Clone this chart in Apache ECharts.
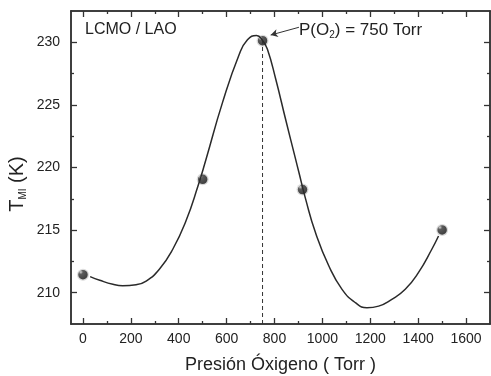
<!DOCTYPE html>
<html>
<head>
<meta charset="utf-8">
<script src="https://cdn.jsdelivr.net/npm/echarts@6/dist/echarts.min.js"></script>
<style>html,body{margin:0;padding:0;background:#fff;}#c{width:491px;height:376px;}</style>
</head>
<body>
<div id="c"></div>
<script>
// ---- data ----
const xTicks = [0, 200, 400, 600, 800, 1000, 1200, 1400, 1600];
const xMinorTicks = [100, 300, 500, 700, 900, 1100, 1300, 1500];
const yTicks = [210, 215, 220, 225, 230];
const yMinorTicks = [212.5, 217.5, 222.5, 227.5];

const pressure = [0, 500, 750, 917, 1500];
const tmi = [211.44, 219.06, 230.13, 218.24, 215.01];

const fitX = [30, 70, 125, 166, 222, 264, 319, 375, 430, 480, 514, 583, 652, 687, 725, 750, 770, 805, 846, 888, 902, 930, 971, 1027, 1082, 1138, 1186, 1235, 1290, 1346, 1401, 1457, 1485];
const fitY = [211.28, 210.99, 210.67, 210.56, 210.64, 210.93, 211.87, 213.47, 215.73, 218.5, 220.66, 225.2, 229.0, 230.2, 230.55, 230.15, 229.46, 227.07, 223.87, 220.67, 219.6, 217.47, 214.8, 212.13, 210.27, 209.2, 208.8, 208.93, 209.47, 210.27, 211.6, 213.47, 214.53];

const peakX = 750, peakY = 230.13;
const arrowFrom = [902, 231.2];
const arrowTo = [784, 230.58];

const xMin = -50, xMax = 1700, yMin = 207.5, yMax = 232.5;

// ---- chart ----
const FONT = 'Liberation Sans, Arial, sans-serif';
const INK = '#222';
const AX = '#333';

function xAx(pos, ticks, len, labels, extra) {
  return Object.assign({
    type: 'value', position: pos, min: xMin, max: xMax,
    axisLine: { show: true, onZero: false, lineStyle: { color: AX, width: 1.5 } },
    axisTick: { show: true, inside: true, length: len, customValues: ticks, lineStyle: { color: AX, width: 1.3 } },
    axisLabel: labels ? { show: true, customValues: ticks, margin: 8, color: INK, fontSize: 14, fontFamily: FONT, formatter: v => String(v) } : { show: false },
    splitLine: { show: false }
  }, extra || {});
}
function yAx(pos, ticks, len, labels) {
  return {
    type: 'value', position: pos, min: yMin, max: yMax,
    axisLine: { show: true, onZero: false, lineStyle: { color: AX, width: 1.5 } },
    axisTick: { show: true, inside: true, length: len, customValues: ticks, lineStyle: { color: AX, width: 1.3 } },
    axisLabel: labels ? { show: true, customValues: ticks, margin: 11, color: INK, fontSize: 14, fontFamily: FONT, formatter: v => String(v) } : { show: false },
    splitLine: { show: false }
  };
}

const ball = {
  type: 'radial', x: 0.35, y: 0.32, r: 0.7,
  colorStops: [
    { offset: 0, color: '#cfcfcf' },
    { offset: 0.22, color: '#333' },
    { offset: 1, color: '#000' }
  ]
};

const chart = echarts.init(document.getElementById('c'), null, { renderer: 'canvas' });
chart.setOption({
  animation: false,
  backgroundColor: '#fff',
  grid: { left: 71, right: 1, top: 11, bottom: 52, containLabel: false, outerBoundsMode: 'none' },
  xAxis: [
    xAx('bottom', xTicks, 6, true, {
      name: 'Presión Óxigeno ( Torr )', nameLocation: 'middle', nameGap: 32,
      nameTextStyle: { color: INK, fontSize: 18, fontFamily: FONT }
    }),
    xAx('bottom', xMinorTicks, 3, false),
    xAx('top', xTicks, 6, false),
    xAx('top', xMinorTicks, 3, false)
  ],
  yAxis: [
    yAx('left', yTicks, 6, true),
    yAx('left', yMinorTicks, 3, false),
    yAx('right', yTicks, 6, false),
    yAx('right', yMinorTicks, 3, false)
  ],
  series: [
    {
      type: 'line', name: 'vline', xAxisIndex: 0, yAxisIndex: 0,
      data: [[peakX, yMin], [peakX, peakY]],
      symbol: 'none', silent: true,
      lineStyle: { color: '#333', width: 1, type: [4, 3] }
    },
    {
      type: 'line', name: 'fit', xAxisIndex: 0, yAxisIndex: 0,
      data: fitX.map((x, i) => [x, fitY[i]]),
      smooth: 0.5, symbol: 'none', silent: true,
      lineStyle: { color: '#2a2a2a', width: 1.5 }
    },
    {
      type: 'scatter', name: 'TMI', xAxisIndex: 0, yAxisIndex: 0,
      data: pressure.map((x, i) => [x, tmi[i]]),
      symbol: 'circle', symbolSize: 12,
      itemStyle: { color: ball, borderColor: '#fff', borderWidth: 2.5 },
      silent: true,
      markLine: {
        silent: true, symbol: ['none', 'arrow'], symbolSize: [6, 7],
        label: { show: false },
        lineStyle: { color: '#333', width: 1, type: 'solid' },
        data: [[{ coord: arrowFrom }, { coord: arrowTo }]]
      }
    }
  ],
  graphic: [
    {
      type: 'text', left: 85, top: 22,
      style: { text: 'LCMO / LAO', fill: INK, font: '16px ' + FONT }
    },
    {
      type: 'text', left: 299, top: 22,
      style: {
        text: 'P(O{sub|2}) = 750 Torr', fill: INK, font: '17px ' + FONT,
        rich: { sub: { fontSize: 10, fontFamily: FONT, fill: INK, padding: [9, 0, 0, 0] } }
      }
    },
    {
      type: 'text', x: 17, y: 184, rotation: Math.PI / 2,
      style: {
        text: 'T{sub|MI} (K)', fill: INK, font: '20px ' + FONT,
        align: 'center', verticalAlign: 'middle',
        rich: { sub: { fontSize: 10, fontFamily: FONT, fill: INK, padding: [12, 0, 0, 0] } }
      }
    }
  ]
});
</script>
</body>
</html>
